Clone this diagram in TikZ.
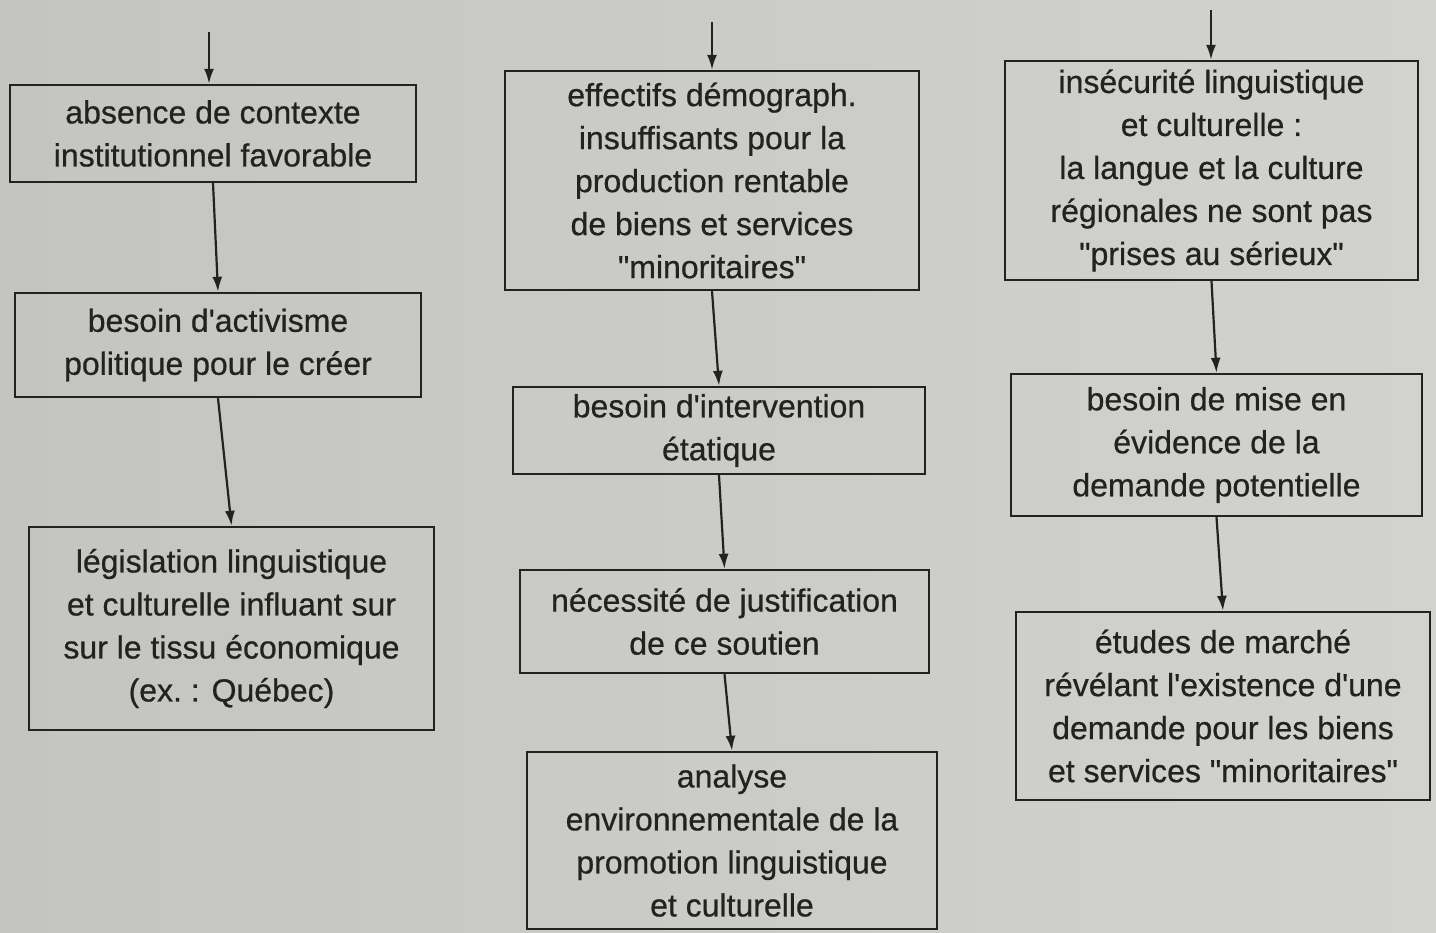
\documentclass[tikz,border=0pt]{standalone}
\usepackage{fontspec}
\setmainfont{Liberation Sans}
\newfontfamily\boxfont{Liberation Sans}[FakeBold=0.6]
\usetikzlibrary{arrows.meta}
\definecolor{paperL}{RGB}{196,196,193}
\definecolor{paperR}{RGB}{210,210,207}
\definecolor{ink}{RGB}{34,34,34}
\newcommand{\dq}{\textquotedbl}
\newcommand{\sq}{\textquotesingle}
\tikzset{
  box/.style={draw=ink, line width=2.4pt, text=ink, align=center, inner sep=0pt,
    font=\boxfont\fontsize{32}{43}\selectfont},
  arr/.style={draw=ink, line width=2.2pt, -{Latex[length=15pt,width=10pt]}}
}
\begin{document}
\begin{tikzpicture}[x=1pt,y=-1pt]
\shade[left color=paperL, right color=paperR] (0,0) rectangle (1436,933);
\useasboundingbox (0,0) rectangle (1436,933);
% column 1
\node[box, minimum width=406pt, minimum height=97pt] (a1) at (213,133.5) {absence de contexte\\institutionnel favorable};
\node[box, minimum width=406pt, minimum height=104pt] (a2) at (218,345) {besoin d\sq activisme\\politique pour le créer};
\node[box, minimum width=405pt, minimum height=203pt] (a3) at (231.5,628.5) {législation linguistique\\et culturelle influant sur\\sur le tissu économique\\(ex.\ : Québec)};
% column 2
\node[box, minimum width=414pt, minimum height=219pt] (c1) at (712,180.5) {effectifs démograph.\\insuffisants pour la\\production rentable\\de biens et services\\\dq minoritaires\dq};
\node[box, minimum width=412pt, minimum height=87pt] (c2) at (719,430.5) {besoin d\sq intervention\\étatique};
\node[box, minimum width=409pt, minimum height=103pt] (c3) at (724.5,621.5) {nécessité de justification\\de ce soutien};
\node[box, minimum width=410pt, minimum height=177pt] (c4) at (732,840.5) {analyse\\environnementale de la\\promotion linguistique\\et culturelle};
% column 3
\node[box, minimum width=413pt, minimum height=219pt] (d1) at (1211.5,170.5) {insécurité linguistique\\et culturelle :\\la langue et la culture\\régionales ne sont pas\\\dq prises au sérieux\dq};
\node[box, minimum width=411pt, minimum height=142pt] (d2) at (1216.5,445) {besoin de mise en\\évidence de la\\demande potentielle};
\node[box, minimum width=414pt, minimum height=188pt] (d3) at (1223,706) {études de marché\\révélant l\sq existence d\sq une\\demande pour les biens\\et services \dq minoritaires\dq};
% incoming arrows
\coordinate (ta) at (209,32);
\coordinate (tc) at (712,22);
\coordinate (td) at (1211,10);
\draw[arr] (ta) -- (ta |- a1.north);
\draw[arr] (tc) -- (tc |- c1.north);
\draw[arr] (td) -- (td |- d1.north);
% connectors
\draw[arr] (a1.south) -- (a2.north);
\draw[arr] (a2.south) -- (a3.north);
\draw[arr] (c1.south) -- (c2.north);
\draw[arr] (c2.south) -- (c3.north);
\draw[arr] (c3.south) -- (c4.north);
\draw[arr] (d1.south) -- (d2.north);
\draw[arr] (d2.south) -- (d3.north);
\end{tikzpicture}
\end{document}
